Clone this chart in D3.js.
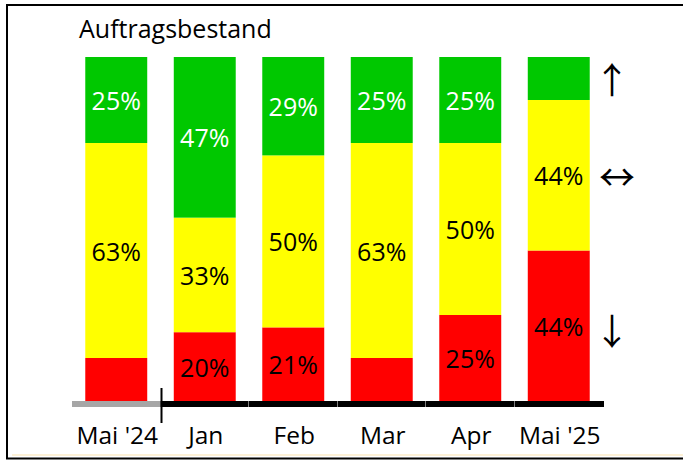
<!DOCTYPE html>
<html>
<head>
<meta charset="utf-8">
<script src="https://cdn.jsdelivr.net/npm/d3@7"></script>
<style>
  body { margin: 0; background: #fff; }
  svg { display: block; font-family: "Open Sans", "Liberation Sans", sans-serif; }
</style>
</head>
<body>
<div class="canvas"></div>
<script>
const months = ['Mai \'24', 'Jan', 'Feb', 'Mar', 'Apr', 'Mai \'25'];
const up = [25, 46.7, 28.6, 25, 25, 12.5];
const same = [62.5, 33.3, 50, 62.5, 50, 43.75];
const down = [12.5, 20, 21.4, 12.5, 25, 43.75];
// labels shown in the picture (null = no label)
const upLabels = ['25%', '47%', '29%', '25%', '25%', null];
const sameLabels = ['63%', '33%', '50%', '63%', '50%', '44%'];
const downLabels = [null, '20%', '21%', null, '25%', '44%'];

const width = 683, height = 460;
const svg = d3.select('.canvas')
    .append('svg')
    .attr('width', width)
    .attr('height', height);

// frame
svg.append('rect')
    .attr('x', 0).attr('y', 0).attr('width', width).attr('height', height)
    .attr('fill', '#fff');
svg.append('line')
    .attr('x1', 7).attr('x2', 7).attr('y1', 4).attr('y2', 459)
    .attr('stroke', '#000').attr('stroke-width', 2);
svg.append('line')
    .attr('x1', 6).attr('x2', width).attr('y1', 5).attr('y2', 5)
    .attr('stroke', '#000').attr('stroke-width', 2);
svg.append('line')
    .attr('x1', 6).attr('x2', width).attr('y1', 458.5).attr('y2', 458.5)
    .attr('stroke', '#000').attr('stroke-width', 2);
svg.append('line')
    .attr('x1', 12).attr('x2', width).attr('y1', 455).attr('y2', 455)
    .attr('stroke', '#fdf1d6').attr('stroke-width', 2);

const xScale = d3.scaleBand()
    .domain(months)
    .range([72, 603])
    .paddingInner(0.3)
    .paddingOuter(0.15);

const yScale = d3.scaleLinear()
    .domain([0, 100])
    .range([401, 57]);

const rows = months.map((m, i) => ({ month: m, up: up[i], same: same[i], down: down[i] }));
const stack = d3.stack().keys(['down', 'same', 'up'])(rows);
const colors = { up: '#00c800', same: '#ffff00', down: '#ff0000' };
const labels = { up: upLabels, same: sameLabels, down: downLabels };
const textColor = { up: '#fff', same: '#000', down: '#000' };

stack.forEach(layer => {
    const g = svg.append('g').attr('class', 'layer-' + layer.key);
    g.selectAll('rect')
        .data(layer)
        .enter()
        .append('rect')
        .attr('x', d => xScale(d.data.month))
        .attr('width', xScale.bandwidth())
        .attr('y', d => yScale(d[1]))
        .attr('height', d => yScale(d[0]) - yScale(d[1]))
        .attr('fill', colors[layer.key]);
    g.selectAll('text')
        .data(layer.filter((d, i) => labels[layer.key][i] !== null))
        .enter()
        .append('text')
        .attr('x', d => xScale(d.data.month) + xScale.bandwidth() / 2)
        .attr('y', d => (yScale(d[0]) + yScale(d[1])) / 2 + 10)
        .attr('text-anchor', 'middle')
        .attr('font-size', 25)
        .attr('fill', textColor[layer.key])
        .text(d => labels[layer.key][months.indexOf(d.data.month)]);
});

// axis baseline: first period grey, rest black
const axisY = 404;
const step = xScale.step();
const gap = step - xScale.bandwidth();
months.forEach((m, i) => {
    const x0 = i === 0 ? 72 : xScale(m) - gap / 2;
    const x1 = i === months.length - 1 ? 604 : xScale(m) + xScale.bandwidth() + gap / 2 - 0.5;
    svg.append('line')
        .attr('x1', x0)
        .attr('x2', x1)
        .attr('y1', axisY).attr('y2', axisY)
        .attr('stroke', i === 0 ? '#a6a6a6' : '#000')
        .attr('stroke-width', 6);
});
const split = xScale(months[1]) - gap / 2 + 1;
svg.append('line')
    .attr('x1', split).attr('x2', split)
    .attr('y1', 388).attr('y2', 423)
    .attr('stroke', '#000').attr('stroke-width', 2);

const xAxis = d3.axisBottom(xScale).tickSize(0).tickPadding(0);
svg.append('g')
    .attr('transform', 'translate(1, 427)')
    .call(xAxis)
    .call(g => g.select('.domain').remove())
    .call(g => g.selectAll('text')
        .attr('font-family', '"Open Sans", sans-serif')
        .attr('font-size', 24.5)
        .attr('fill', '#000'));

// title
svg.append('text')
    .attr('x', 79)
    .attr('y', 38)
    .attr('font-size', 25)
    .attr('fill', '#000')
    .text('Auftragsbestand');

// trend arrows next to last bar
const last = stack.map(l => l[l.length - 1]);
const arrowFor = { up: '↑', same: '↔', down: '↓' };
const arrowShift = { up: 2.5, same: 3.5, down: 6.5 };
svg.append('g')
    .selectAll('text')
    .data(last)
    .enter()
    .append('text')
    .attr('x', (d, i) => stack[i].key === 'same' ? 617 : 612)
    .attr('y', (d, i) => (yScale(d[0]) + yScale(d[1])) / 2 + arrowShift[stack[i].key])
    .attr('dy', '0.35em')
    .attr('text-anchor', 'middle')
    .attr('font-family', '"Noto Sans CJK JP", sans-serif')
    .attr('font-size', 36)
    .attr('fill', '#000')
    .text((d, i) => arrowFor[stack[i].key]);
</script>
</body>
</html>
